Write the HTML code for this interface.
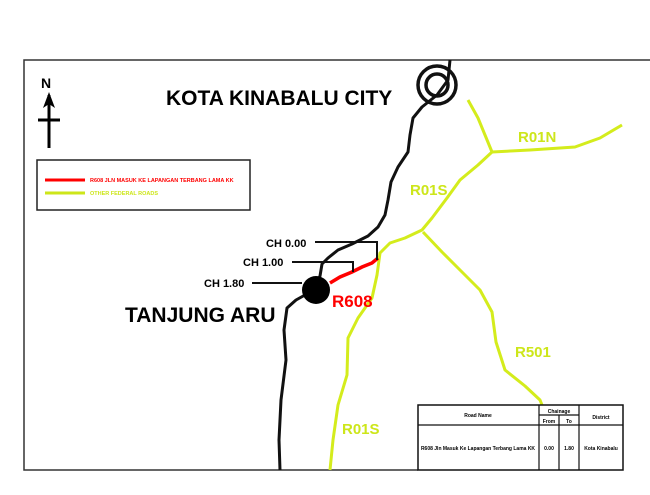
<!DOCTYPE html>
<html><head><style>body{margin:0;background:#fff}svg{display:block}text{font-family:"Liberation Sans",sans-serif;font-weight:bold}</style></head><body>
<svg width="650" height="495" viewBox="0 0 650 495">
<rect width="650" height="495" fill="#fff"/>
<path d="M650 60 H24 V470 H418" fill="none" stroke="#333" stroke-width="1.5"/>
<!-- north arrow -->
<text x="41" y="88" font-size="14">N</text>
<line x1="49" y1="95" x2="49" y2="148" stroke="#000" stroke-width="3"/>
<line x1="38" y1="120" x2="60" y2="120" stroke="#000" stroke-width="3"/>
<path d="M49 92 L43 108 L49 104 L55 108Z" fill="#000"/>
<text x="166" y="105" font-size="21">KOTA KINABALU CITY</text>
<!-- legend -->
<rect x="37" y="160" width="213" height="50" fill="none" stroke="#222" stroke-width="1.5"/>
<line x1="45" y1="180" x2="85" y2="180" stroke="#f00" stroke-width="3"/>
<text x="90" y="182" font-size="5.5" fill="#f00">R608 JLN MASUK KE LAPANGAN TERBANG LAMA KK</text>
<line x1="45" y1="193" x2="85" y2="193" stroke="#cde61a" stroke-width="3"/>
<text x="90" y="195" font-size="5.5" fill="#cde61a">OTHER FEDERAL ROADS</text>
<!-- yellow roads -->
<g fill="none" stroke="#d4ec1c" stroke-width="3" stroke-linejoin="round">
<path d="M468 100 L478 118 L485 135 L492 152 L478 165 L460 180 L447 198 L432 218 L422 230 L405 238 L390 243 L380 253 L377 275 L372 298 L358 318 L348 338 L347 375 L338 405 L333 440 L330 470"/>
<path d="M492 152 L530 150 L575 147 L600 138 L622 125"/>
<path d="M423 232 L442 252 L460 270 L480 290 L492 312 L496 342 L505 370 L525 386 L540 400 L548 420"/>
</g>
<!-- black road -->
<path d="M450 60 L448 80 L437 95 L422 107 L413 118 L410 135 L408 152 L398 167 L391 182 L388 200 L385 215 L378 227 L368 236 L352 244 L338 250 L328 258 L322 264 L320 276 L314 290 L296 300 L287 308 L284 330 L286 360 L281 400 L279 440 L280 470" fill="none" stroke="#111" stroke-width="3" stroke-linejoin="round"/>
<circle cx="437" cy="85" r="19" fill="none" stroke="#111" stroke-width="3.5"/>
<circle cx="437" cy="85" r="11" fill="none" stroke="#111" stroke-width="3.5"/>
<!-- red -->
<path d="M330 283 L340 277 L352 272 L362 267 L372 263 L378 258" fill="none" stroke="#f00" stroke-width="3.5"/>
<!-- CH leaders -->
<g stroke="#111" stroke-width="2" fill="none">
<path d="M315 242 H377 V260"/>
<path d="M292 262 H353 V272"/>
<path d="M252 283 H302"/>
</g>
<text x="266" y="247" font-size="11">CH 0.00</text>
<text x="243" y="266" font-size="11">CH 1.00</text>
<text x="204" y="287" font-size="11">CH 1.80</text>
<circle cx="316" cy="290" r="14" fill="#000"/>
<text x="332" y="307" font-size="17" fill="#f00">R608</text>
<text x="125" y="322" font-size="21">TANJUNG ARU</text>
<text x="518" y="142" font-size="15" fill="#cde61a">R01N</text>
<text x="410" y="195" font-size="15" fill="#cde61a">R01S</text>
<text x="515" y="357" font-size="15" fill="#cde61a">R501</text>
<text x="342" y="434" font-size="15" fill="#cde61a">R01S</text>
<!-- table -->
<rect x="418" y="405" width="205" height="65" fill="#fff" stroke="#111" stroke-width="1.5"/>
<g stroke="#111" stroke-width="1.2">
<line x1="418" y1="425" x2="623" y2="425"/>
<line x1="539" y1="405" x2="539" y2="470"/>
<line x1="579" y1="405" x2="579" y2="470"/>
<line x1="559" y1="415" x2="559" y2="470"/>
<line x1="539" y1="415" x2="579" y2="415"/>
</g>
<g font-size="5" text-anchor="middle">
<text x="478" y="417">Road Name</text>
<text x="559" y="413">Chainage</text>
<text x="549" y="423">From</text>
<text x="569" y="423">To</text>
<text x="601" y="419">District</text>
<text x="478" y="450">R608 Jln Masuk Ke Lapangan Terbang Lama KK</text>
<text x="549" y="450">0.00</text>
<text x="569" y="450">1.80</text>
<text x="601" y="450">Kota Kinabalu</text>
</g>
</svg>
</body></html>
